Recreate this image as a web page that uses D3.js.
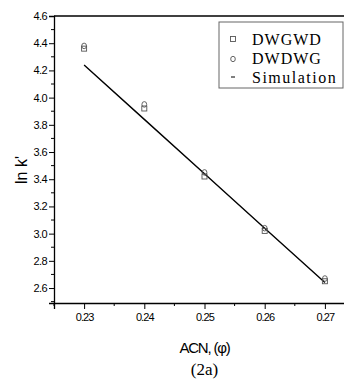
<!DOCTYPE html>
<html>
<head>
<meta charset="utf-8">
<script src="https://cdn.jsdelivr.net/npm/d3@7"></script>
<style>
  body { margin: 0; background: #fff; }
  svg text { fill: #000; }
</style>
</head>
<body>
<div id="hook-chart"></div>
<script>
'use strict';

var xValues = [0.23, 0.24, 0.25, 0.26, 0.27];
var dwgwd = [4.36, 3.92, 3.42, 3.02, 2.65];
var dwdwg = [4.38, 3.95, 3.45, 3.04, 2.67];
var simulation = [4.24, 3.84, 3.44, 3.04, 2.64];
var xTicks = [0.23, 0.24, 0.25, 0.26, 0.27];
var yTicks = [2.6, 2.8, 3.0, 3.2, 3.4, 3.6, 3.8, 4.0, 4.2, 4.4, 4.6];
var legendLabels = ['DWGWD', 'DWDWG', 'Simulation'];

(function() {

var width = 344, height = 380;
var mLeft = 54, mTop = 16, mBottom = 303, mRight = 355;

var svg = d3.select('#hook-chart')
  .append('svg')
  .attr('width', width)
  .attr('height', height);

var x = d3.scaleLinear().domain([0.225, 0.275]).range([mLeft, mRight]);
var y = d3.scaleLinear().domain([2.49, 4.6]).range([mBottom, mTop]);

// frame: top line only shows, right side is cut off
svg.append('line')
  .attr('x1', mLeft).attr('x2', width)
  .attr('y1', mTop).attr('y2', mTop)
  .style('stroke', '#000').style('stroke-width', 1.3);

// y axis
var yAxis = svg.append('g')
  .attr('transform', 'translate(' + mLeft + ',0)')
  .call(d3.axisLeft(y).tickValues(yTicks).tickSize(5).tickPadding(2)
    .tickFormat(d3.format('.1f')));
yAxis.select('.domain').style('stroke-width', 1.3);
yAxis.selectAll('text')
  .style('font-family', 'Liberation Sans, Arial, sans-serif')
  .style('font-size', '11px')
  .style('letter-spacing', '-0.6px');

var yMinor = d3.range(2.5, 4.6, 0.2);
svg.append('g').selectAll('line').data(yMinor).enter().append('line')
  .attr('x1', mLeft - 3).attr('x2', mLeft)
  .attr('y1', function(d) { return y(d); })
  .attr('y2', function(d) { return y(d); })
  .style('stroke', '#000');

// x axis
var xAxis = svg.append('g')
  .attr('transform', 'translate(0,' + mBottom + ')')
  .call(d3.axisBottom(x).tickValues(xTicks).tickSize(6).tickPadding(4)
    .tickFormat(d3.format('.2f')));
xAxis.select('.domain').style('stroke-width', 1.3);
xAxis.selectAll('text')
  .style('font-family', 'Liberation Sans, Arial, sans-serif')
  .style('font-size', '11px')
  .style('letter-spacing', '-0.9px');

var xMinor = [0.225, 0.235, 0.245, 0.255, 0.265];
svg.append('g').selectAll('line').data(xMinor).enter().append('line')
  .attr('x1', function(d) { return x(d); })
  .attr('x2', function(d) { return x(d); })
  .attr('y1', mBottom).attr('y2', mBottom + 3)
  .style('stroke', '#000');

// simulation line
var line = d3.line()
  .x(function(d, i) { return x(xValues[i]); })
  .y(function(d) { return y(d); });
svg.append('path')
  .datum(simulation)
  .attr('d', line)
  .style('fill', 'none')
  .style('stroke', '#000')
  .style('stroke-width', 1.4);

// markers
var pts = svg.append('g');
pts.selectAll('rect').data(dwgwd).enter().append('rect')
  .attr('x', function(d, i) { return x(xValues[i]) - 2.5; })
  .attr('y', function(d) { return y(d) - 2.5; })
  .attr('width', 5).attr('height', 5)
  .style('fill', 'none').style('stroke', '#555').style('stroke-width', 0.9);
pts.selectAll('ellipse').data(dwdwg).enter().append('ellipse')
  .attr('cx', function(d, i) { return x(xValues[i]); })
  .attr('cy', function(d) { return y(d); })
  .attr('rx', 2.4).attr('ry', 2.8)
  .style('fill', 'none').style('stroke', '#555').style('stroke-width', 0.9);

// legend
var lg = svg.append('g');
lg.append('rect')
  .attr('x', 219).attr('y', 22).attr('width', 124).attr('height', 66)
  .style('fill', '#fff').style('stroke', '#666').style('stroke-width', 1);
lg.append('rect')
  .attr('x', 230.5).attr('y', 36.5).attr('width', 5).attr('height', 5)
  .style('fill', 'none').style('stroke', '#555').style('stroke-width', 0.9);
lg.append('ellipse')
  .attr('cx', 233).attr('cy', 59).attr('rx', 2.3).attr('ry', 2.7)
  .style('fill', 'none').style('stroke', '#555').style('stroke-width', 0.9);
lg.append('line')
  .attr('x1', 231).attr('x2', 235).attr('y1', 77).attr('y2', 77)
  .style('stroke', '#000').style('stroke-width', 1);
lg.selectAll('text').data(legendLabels).enter().append('text')
  .attr('x', 252)
  .attr('y', function(d, i) { return 45 + i * 19; })
  .style('font-family', 'Liberation Serif, Times New Roman, serif')
  .style('font-size', '16px')
  .style('letter-spacing', function(d, i) { return i == 2 ? '1.5px' : '1px'; })
  .text(function(d) { return d; });

// axis titles
svg.append('text')
  .attr('transform', 'translate(27,170) rotate(-90)')
  .attr('text-anchor', 'middle')
  .style('font-family', 'Liberation Sans, Arial, sans-serif')
  .style('font-size', '16px')
  .text("ln k'");

svg.append('text')
  .attr('x', x(0.25)).attr('y', 353)
  .attr('text-anchor', 'middle')
  .style('font-family', 'Liberation Sans, Arial, sans-serif')
  .style('font-size', '15px')
  .style('letter-spacing', '-1.2px')
  .text('ACN, (\u03c6)');

svg.append('text')
  .attr('x', x(0.25)).attr('y', 375)
  .attr('text-anchor', 'middle')
  .style('font-family', 'Liberation Serif, Times New Roman, serif')
  .style('font-size', '17px')
  .text('(2a)');

}());
</script>
</body>
</html>
